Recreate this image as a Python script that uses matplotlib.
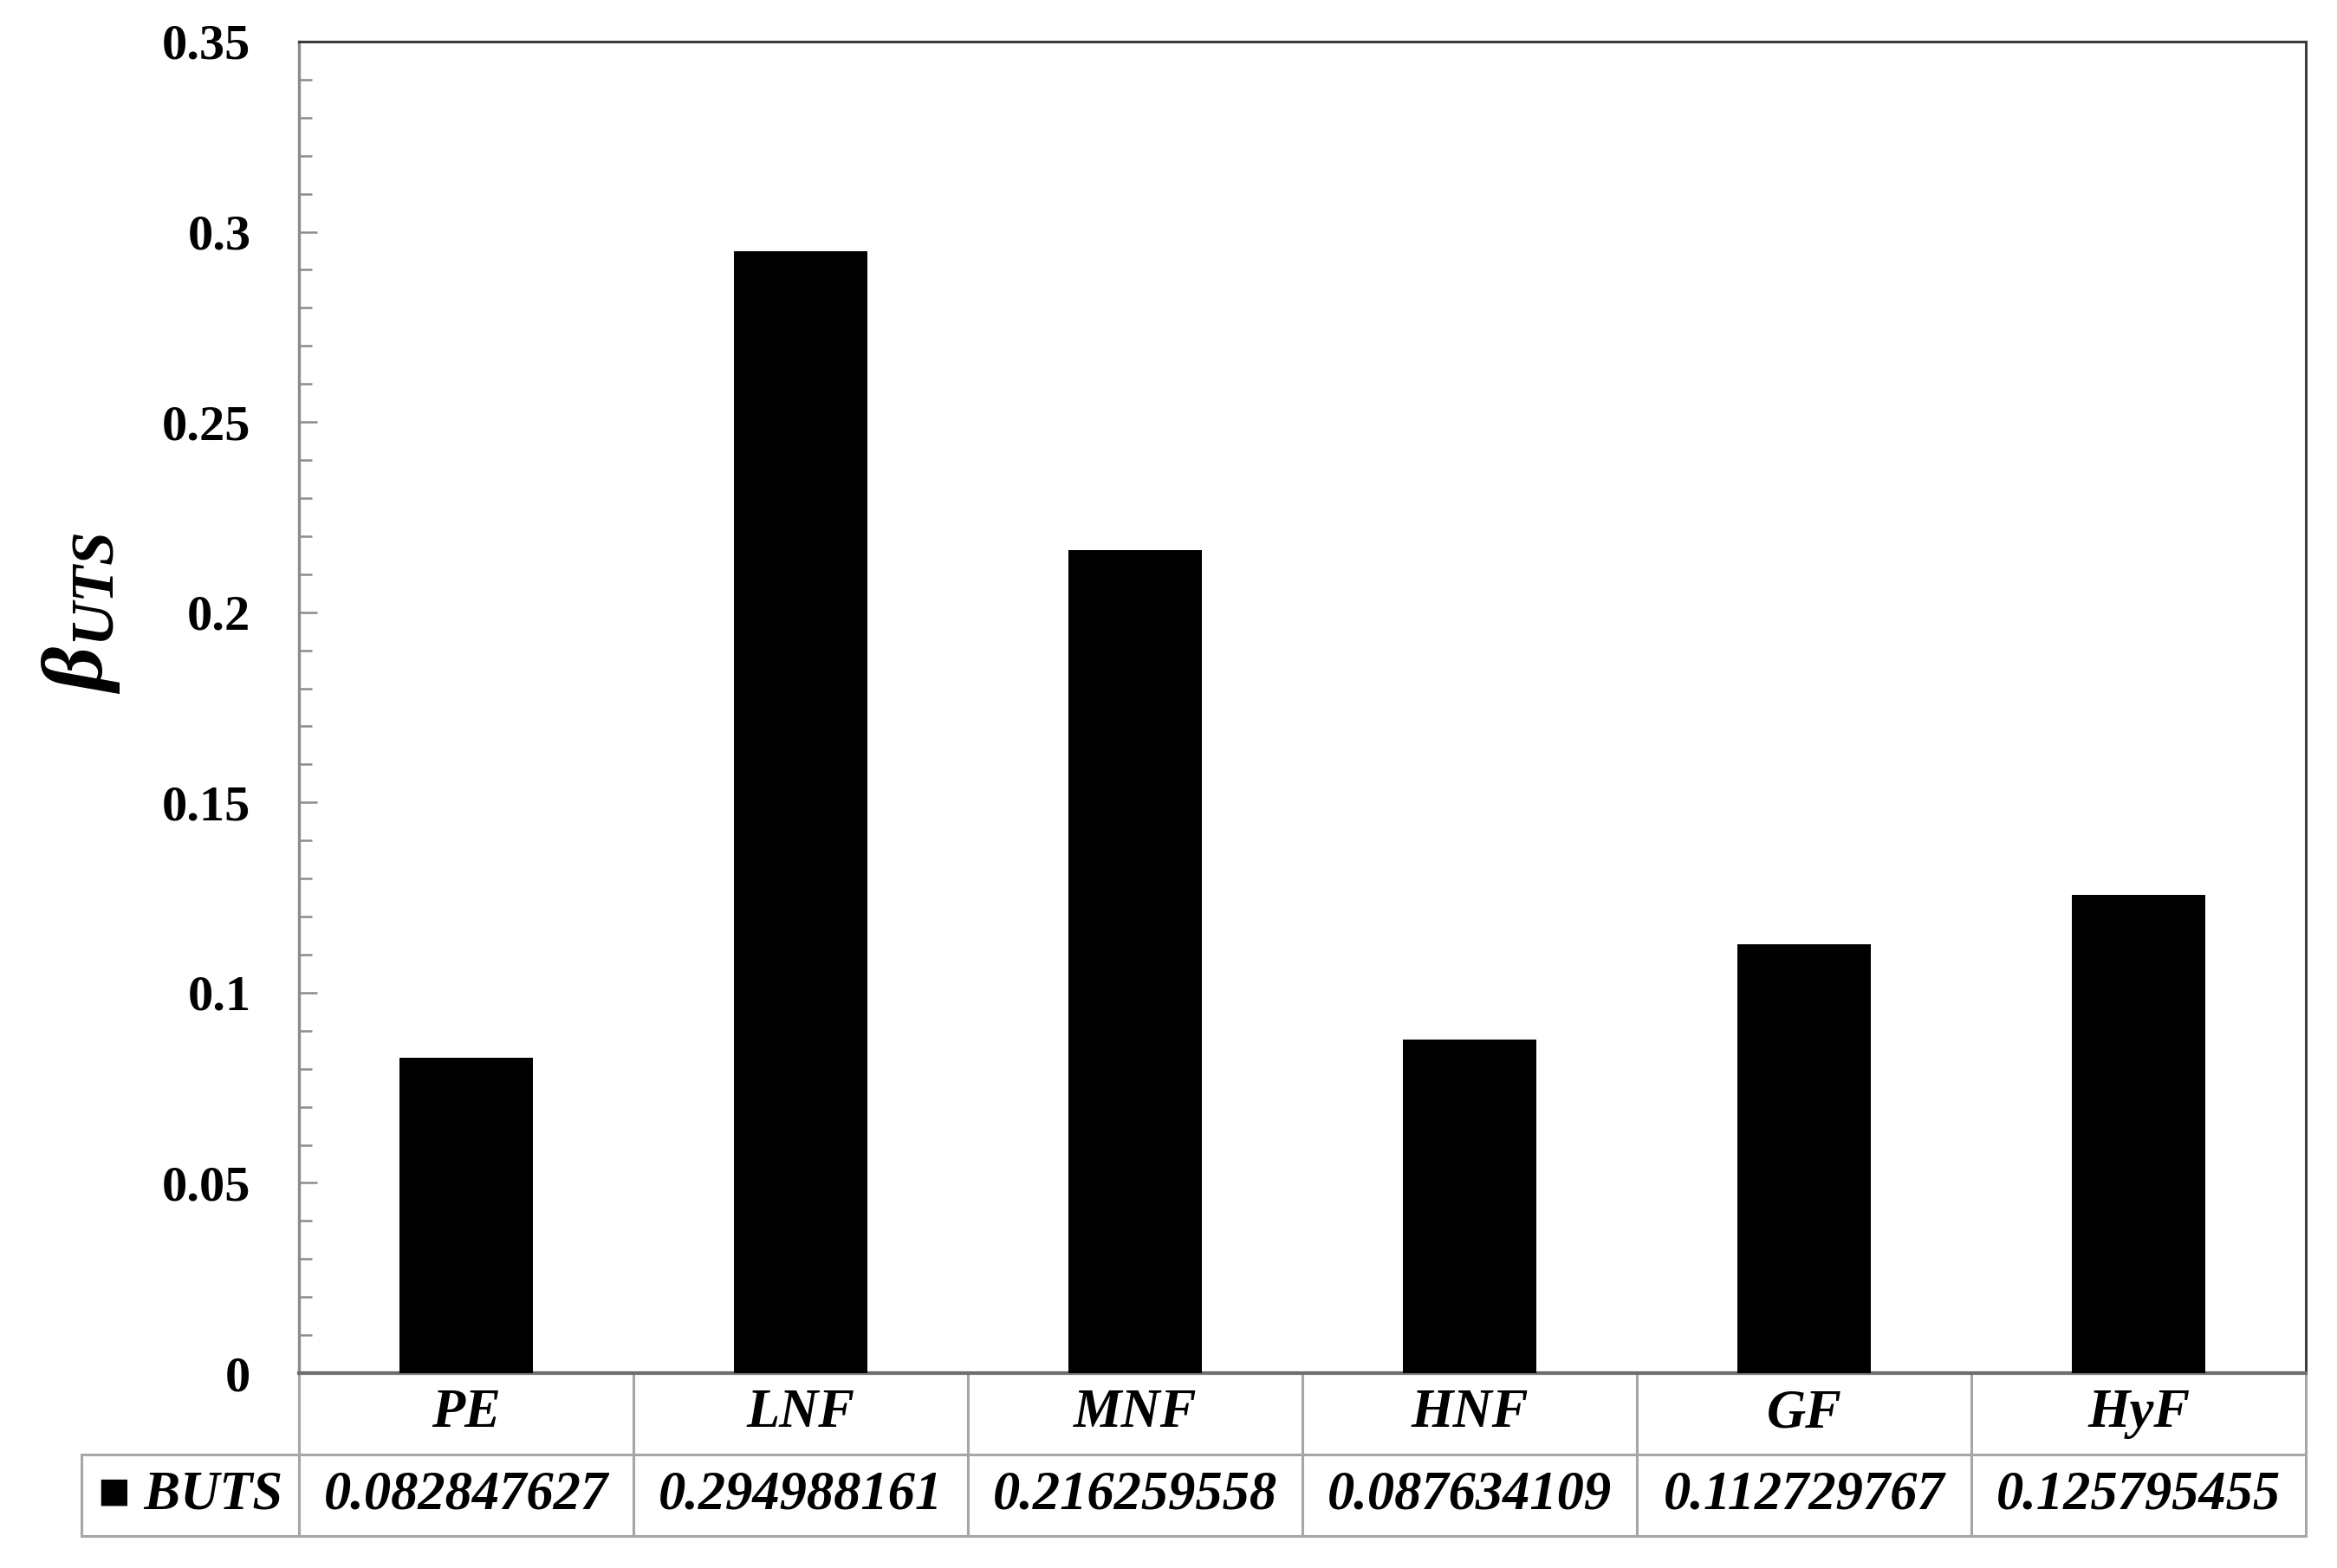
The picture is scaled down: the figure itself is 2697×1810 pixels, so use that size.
import matplotlib
matplotlib.use("Agg")
import matplotlib.pyplot as plt
from matplotlib.ticker import MultipleLocator, FuncFormatter

# Data
categories = ["PE", "LNF", "MNF", "HNF", "GF", "HyF"]
buts_values = [0.082847627, 0.294988161, 0.216259558, 0.087634109, 0.112729767, 0.125795455]
value_labels = ["0.082847627", "0.294988161", "0.216259558", "0.087634109", "0.112729767", "0.125795455"]
series_name = "BUTS"

plt.rcParams["font.family"] = ["Liberation Serif", "DejaVu Sans"]
plt.rcParams["mathtext.fontset"] = "custom"
plt.rcParams["mathtext.rm"] = "Liberation Serif"
plt.rcParams["mathtext.it"] = "Liberation Serif:italic:bold"
plt.rcParams["mathtext.bf"] = "Liberation Serif:italic:bold"

fig = plt.figure(figsize=(26.97, 18.10), dpi=100)
ax = fig.add_axes([0.1279, 0.1243, 0.8588, 0.8492])

x = list(range(len(categories)))
ax.bar(x, buts_values, width=0.4, color="black", zorder=3)

ax.set_xlim(-0.5, len(categories) - 0.5)
ax.set_ylim(0, 0.35)
ax.set_xticks([])

# y axis ticks
ax.yaxis.set_major_locator(MultipleLocator(0.05))
ax.yaxis.set_minor_locator(MultipleLocator(0.01))
ax.yaxis.set_major_formatter(FuncFormatter(lambda v, p: "%g" % round(v, 4)))
ax.tick_params(axis="y", which="major", direction="in", length=15, width=1.8,
               color="#8c8c8c", pad=40, labelsize=42)
ax.tick_params(axis="y", which="minor", direction="in", length=11, width=1.8,
               color="#8c8c8c")
for lab in ax.get_yticklabels():
    lab.set_fontweight("bold")

# spines
ax.spines["left"].set_color("#8c8c8c")
ax.spines["left"].set_linewidth(2.4)
ax.spines["bottom"].set_color("#6e6e6e")
ax.spines["bottom"].set_linewidth(3)
ax.spines["top"].set_color("#3c3c3c")
ax.spines["right"].set_color("#3c3c3c")
ax.spines["top"].set_linewidth(2.2)
ax.spines["right"].set_linewidth(2.2)

# y label
fig.text(0.0345, 0.609, r"$\mathbf{\beta}_{\mathbf{UTS}}$", rotation=90,
         fontsize=72, ha="center", va="center")

# data table under the plot
cell_text = [["\u25a0 " + series_name] + value_labels]
col_labels = [""] + categories
tab = ax.table(cellText=cell_text, colLabels=col_labels,
               colWidths=[251] + [386] * len(categories),
               cellLoc="center",
               bbox=[-0.1084, -0.1223, 1.1084, 0.1223])
tab.auto_set_font_size(False)
tab.set_zorder(1)
tab.set_clip_on(False)
for (r, c), cell in tab.get_celld().items():
    cell.set_edgecolor("#a6a6a6")
    cell.set_linewidth(2.2)
    t = cell.get_text()
    t.set_fontsize(45)
    t.set_fontweight("bold")
    t.set_fontstyle("italic")
    t.set_family(["Liberation Serif", "DejaVu Sans"])
    if r == 0 and c == 0:
        cell.visible_edges = "open"

fig.savefig("out.png", dpi=100)
